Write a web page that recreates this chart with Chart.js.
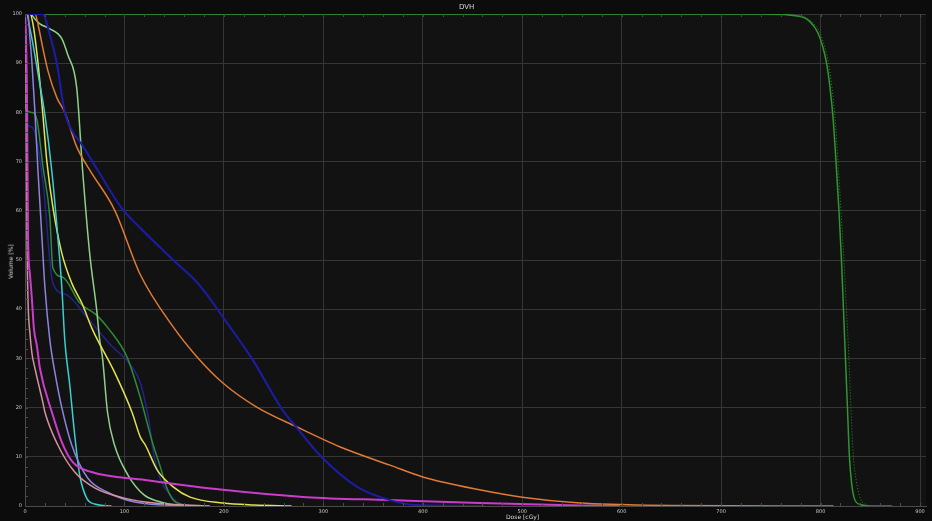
<!DOCTYPE html>
<html>
<head>
<meta charset="utf-8">
<script src="https://cdn.jsdelivr.net/npm/chart.js@4.4.1/dist/chart.umd.min.js"></script>
<style>
  body { margin: 0; background: #0c0c0c; overflow: hidden; }
  #wrap { position: relative; width: 932px; height: 521px; }
  .lbl { position: absolute; color: #d8d8d8; font-family: "DejaVu Sans", sans-serif; font-size: 6px; white-space: nowrap; }
</style>
</head>
<body>
<div id="wrap">
  <canvas id="c"></canvas>
  <div class="lbl" style="left:459px; top:3px; font-size:7px;">DVH</div>
  <div class="lbl" style="left:506px; top:513px;">Dose [cGy]</div>
  <div class="lbl" style="left:-7px; top:258px; transform: rotate(-90deg);">Volume [%]</div>
</div>
<script>
// dose in cGy, volume in %
const ptvDose = [0, 740, 780, 790, 797, 802, 806, 809.5, 812.5, 815.5, 818.5, 821, 823, 825, 827, 829, 831, 834, 840, 850, 872];
const ptvVol  = [100, 100, 99.5, 98.3, 96.3, 93.5, 90, 85, 79, 70, 60, 50, 40, 30, 20, 10, 5, 1.5, 0.3, 0, 0];

const ptvDotDose = [0, 742, 782, 792, 799, 804, 808, 811.5, 814.5, 817.5, 820.5, 823.5, 826, 828.5, 830.5, 833, 836, 840, 846, 851];
const ptvDotVol  = [100, 100, 99.5, 98.3, 96.3, 93.5, 90, 85, 79, 70, 60, 50, 40, 30, 20, 10, 5, 1.5, 0.3, 0];

const navyDose = [0, 18, 22, 26, 32, 40, 48, 57, 73, 97, 116, 149, 175, 199, 229, 259, 273, 298, 334, 367, 394, 462];
const navyVol  = [100, 100, 98, 95, 90, 80, 76, 73.5, 68.3, 60.6, 56.5, 50, 45, 38.4, 29.7, 19.5, 16, 10, 3.9, 1.2, 0.2, 0];

const orangeDose = [0, 10, 14, 18, 23, 32, 40, 52, 65, 90, 116, 149, 173, 199, 233, 273, 317, 367, 400, 457, 500, 558, 598, 650, 813];
const orangeVol  = [100, 100, 97, 93, 88.5, 83, 80, 73, 68.3, 60.2, 47, 36.4, 30.3, 25, 20.1, 16.1, 12, 8.3, 5.9, 3.3, 1.8, 0.6, 0.3, 0.1, 0];

const lgreenDose = [0, 5, 10, 15, 25, 37, 43, 52, 58, 65, 72, 75, 78, 83, 90, 103.5, 120, 133, 149, 160];
const lgreenVol  = [100, 100, 99, 98, 97, 95, 91.7, 85, 68, 51.4, 40, 34, 30, 19, 12.4, 6.3, 2.2, 1, 0.2, 0];

const yellowDose = [0, 5, 8, 13, 18, 22, 28, 37, 47, 57, 68, 90, 107.5, 116, 121, 133, 149, 166, 199, 230, 268];
const yellowVol  = [100, 100, 98, 90.2, 79.5, 70, 60.8, 51.4, 45.3, 41.3, 35.8, 27.2, 19.1, 14, 12.4, 7.3, 3.9, 1.8, 0.6, 0.2, 0];

const cyanDose = [0, 2, 4, 7, 13, 20, 27, 33, 37, 40, 45, 50, 55, 62, 70, 87];
const cyanVol  = [100, 100, 98, 95, 88, 79.5, 68, 54.7, 44.5, 33.7, 24.6, 14.4, 6.3, 1.6, 0.4, 0];

const lavDose = [0, 3, 5, 7, 10, 13, 17, 20, 25, 30, 37, 47, 63, 83, 110.5, 140, 176];
const lavVol  = [100, 100, 95, 90, 80, 68.3, 54.7, 44.5, 33.7, 27.2, 20, 12.4, 5.7, 2.8, 0.8, 0.2, 0];

const magentaDose = [0, 1, 2, 3, 5, 7, 9, 12, 15, 27, 37, 48, 67, 121, 199, 283, 367, 457, 558, 598];
const magentaVol  = [100, 95, 83, 55.5, 47, 41.9, 36, 32.5, 28, 19.1, 13, 8.9, 6.9, 5.3, 3.3, 1.8, 1.2, 0.6, 0.1, 0];

const pinkDose = [0, 1, 2, 3, 5, 7, 10, 18, 20, 33, 50, 70, 100, 121, 150, 186];
const pinkVol  = [100, 90, 55, 42, 35, 31, 28, 21, 19.1, 12.4, 6.9, 3.7, 1.6, 0.8, 0.3, 0];

const dgreenDose = [0, 0.5, 7, 12, 18, 25, 28, 38, 55, 72, 85, 102.5, 116, 128, 136, 142, 149, 158, 170];
const dgreenVol  = [100, 81, 80, 78.5, 69, 58.7, 48.4, 46.5, 41.3, 38.8, 35.8, 30.3, 22, 13, 8, 4, 1.2, 0.3, 0];

const navy2Dose = [0, 0.5, 7, 18, 28, 42, 62, 85, 108.5, 116, 124, 130, 137, 145, 153, 165];
const navy2Vol  = [100, 79, 77, 66, 45.3, 42.9, 38.4, 33, 28, 25, 18, 10, 5, 2.5, 0.8, 0];

const xTicks = [0, 100, 200, 300, 400, 500, 600, 700, 800, 900];
const yTicks = [0, 10, 20, 30, 40, 50, 60, 70, 80, 90, 100];

function pts(d, v) { return d.map((x, i) => ({ x: x, y: v[i] })); }

function ds(d, v, color, width, dash) {
  return {
    data: pts(d, v),
    borderColor: color,
    borderWidth: width,
    borderDash: dash || [],
    pointRadius: 0,
    fill: false,
    cubicInterpolationMode: 'monotone'
  };
}

// small minor tick marks along the frame, plus plot background
const frame = {
  id: 'frame',
  beforeDraw(chart) {
    const { ctx, chartArea: a } = chart;
    ctx.save();
    ctx.fillStyle = '#121212';
    ctx.fillRect(a.left, a.top, a.right - a.left, a.bottom - a.top);
    ctx.restore();
  },
  afterDraw(chart) {
    const { ctx, chartArea: a, scales } = chart;
    ctx.save();
    ctx.strokeStyle = '#4a4a4a';
    ctx.lineWidth = 1;
    ctx.beginPath();
    for (let v = 0; v <= 900; v += 20) {
      const px = Math.round(scales.x.getPixelForValue(v)) + 0.5;
      ctx.moveTo(px, a.bottom); ctx.lineTo(px, a.bottom - 3);
      ctx.moveTo(px, a.top); ctx.lineTo(px, a.top + 3);
    }
    for (let v = 0; v <= 100; v += 2) {
      const py = Math.round(scales.y.getPixelForValue(v)) + 0.5;
      ctx.moveTo(a.left, py); ctx.lineTo(a.left + 3, py);
    }
    ctx.stroke();
    ctx.restore();
  }
};

new Chart(document.getElementById('c'), {
  type: 'line',
  data: {
    datasets: [
      ds(navyDose, navyVol, '#1c1ca8', 2),
      ds(orangeDose, orangeVol, '#e07a34', 1.5),
      ds(magentaDose, magentaVol, '#cc3ccc', 2),
      ds(pinkDose, pinkVol, '#d8909c', 1.5),
      ds(lavDose, lavVol, '#8c84e0', 1.5),
      ds(cyanDose, cyanVol, '#3ccfd0', 1.5),
      ds(yellowDose, yellowVol, '#e4e44c', 1.5),
      ds(lgreenDose, lgreenVol, '#8fd08a', 1.5),
      ds(dgreenDose, dgreenVol, '#2f8a3a', 1.5),
      ds(navy2Dose, navy2Vol, '#23238c', 1.5),
      ds(ptvDotDose, ptvDotVol, '#2e8a2e', 1, [1, 2]),
      ds(ptvDose, ptvVol, '#2f9630', 1.5)
    ]
  },
  options: {
    responsive: true,
    maintainAspectRatio: false,
    animation: false,
    layout: { padding: { top: 14, right: 6, left: 0, bottom: 0 } },
    plugins: { legend: { display: false }, tooltip: { enabled: false }, title: { display: false } },
    scales: {
      x: {
        type: 'linear',
        min: 0,
        max: 906,
        afterBuildTicks: s => { s.ticks = xTicks.map(v => ({ value: v })); },
        afterFit: s => { s.height = 15; },
        ticks: { color: '#c8c8c8', font: { family: 'DejaVu Sans', size: 5 }, padding: 3, maxRotation: 0 },
        grid: { color: '#363636', lineWidth: 1, drawTicks: false },
        border: { color: '#4a4a4a' }
      },
      y: {
        min: 0,
        max: 100,
        afterBuildTicks: s => { s.ticks = yTicks.map(v => ({ value: v })); },
        afterFit: s => { s.width = 25; },
        ticks: { color: '#c8c8c8', font: { family: 'DejaVu Sans', size: 5 }, padding: 3 },
        grid: { color: '#363636', lineWidth: 1, drawTicks: false },
        border: { color: '#4a4a4a' }
      }
    }
  },
  plugins: [frame]
});
</script>
</body>
</html>
